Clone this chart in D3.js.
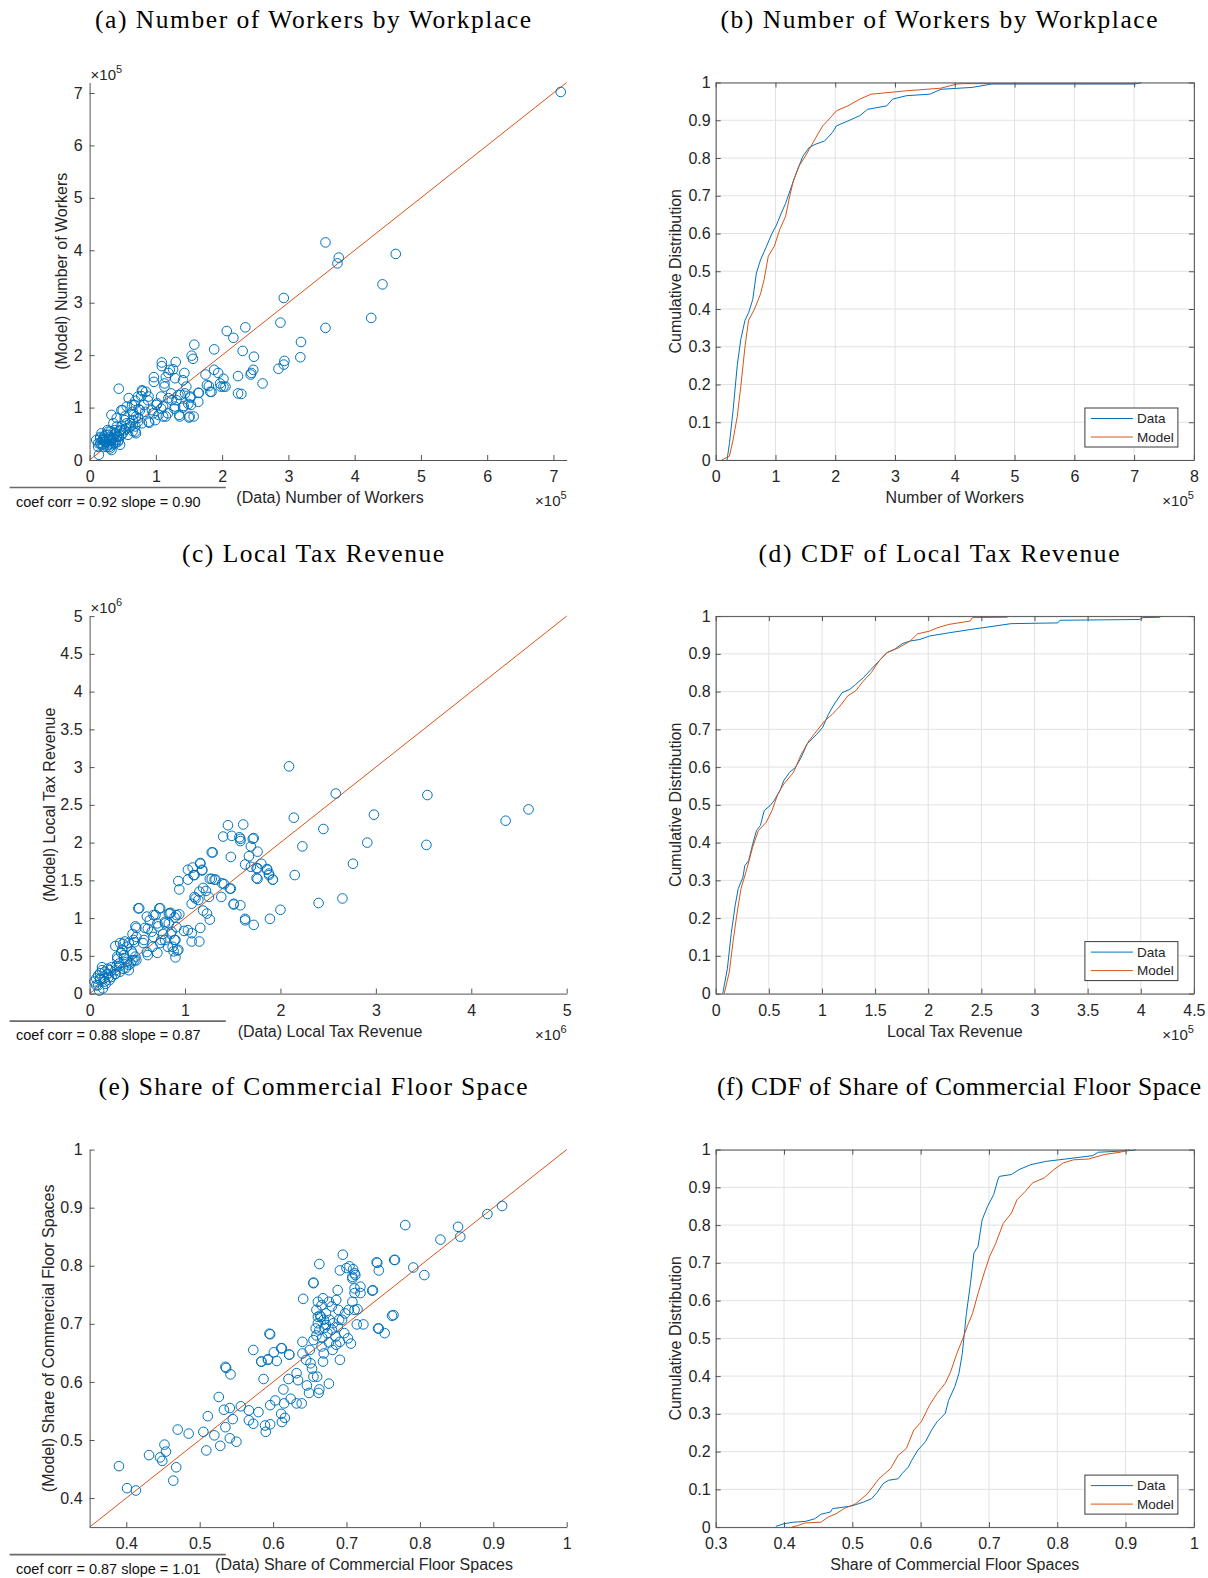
<!DOCTYPE html>
<html><head><meta charset="utf-8">
<script src="https://cdn.jsdelivr.net/npm/d3@7"></script>
<style>
body{margin:0;background:#fff}
svg{display:block}
text{font-family:"Liberation Sans",Arial,Helvetica,sans-serif}
</style></head><body>
<svg id="fig" width="1208" height="1578"></svg>
<script>
// ---------- values (workers in units of 1e5, tax revenue in units of 1e6 / 1e5) ----------
// (a) workers by workplace: [data, model]
const workersScatter = [
[7.11,7.02],[3.56,4.15],[3.76,3.86],[3.74,3.75],[4.62,3.93],[4.42,3.35],[4.25,2.71],[3.56,2.52],[2.93,3.09],[2.88,2.62],
[2.35,2.53],[2.07,2.46],[2.17,2.33],[2.31,2.08],[2.48,1.97],[3.19,2.25],[3.18,1.96],[2.94,1.89],[2.93,1.82],[2.85,1.74],
[2.47,1.72],[2.44,1.66],[2.43,1.63],[2.24,1.60],[2.29,1.26],[2.61,1.46],[1.88,2.11],[1.58,2.20],[1.54,1.99],[1.56,1.93],
[1.30,1.87],[1.09,1.86],[1.09,1.79],[1.26,1.73],[0.97,1.58],[0.97,1.49],[1.19,1.66],[1.43,1.66],[0.44,1.36],[1.75,1.63],
[1.88,1.72],[1.94,1.66],[1.80,1.41],[1.84,1.30],[1.97,1.46],[2.02,1.55],[2.05,1.40],[1.98,1.40],[1.65,1.28],[1.64,1.11],
[1.51,0.83],[1.35,0.86],[1.15,0.83],[1.04,0.86],[0.90,0.71],[1.42,1.03],[1.28,0.98],[1.52,1.19],[1.53,1.05],[1.46,1.40],
[1.41,1.52],[1.37,1.24],[1.31,1.14],[1.23,1.27],[1.19,1.18],[1.13,1.40],[1.13,1.46],[1.08,1.21],[1.02,1.08],[1.08,0.98],
[0.96,0.89],[0.85,1.30],[0.79,1.33],[0.88,1.14],[0.73,1.21],[0.67,1.05],[0.59,1.18],[0.56,1.02],[0.50,0.95],[0.65,0.92],
[0.70,0.83],[0.76,0.95],[0.82,1.05],[0.73,0.73],[0.70,0.51],[0.62,0.64],[0.53,0.76],[0.41,0.64],[0.36,0.70],[0.27,0.57],
[0.39,0.51],[0.33,0.38],[0.21,0.38],[0.16,0.32],[0.18,0.51],[0.30,0.25],[0.14,0.10],[0.33,0.19],[0.24,0.48],[0.44,0.44],
[0.50,0.51],[0.47,0.57],[0.56,0.70],[0.65,0.76],[0.16,0.44],[0.21,0.25],[0.39,0.32],[0.44,0.38],[0.10,0.38],[0.13,0.25],
[1.21,1.72],[1.15,1.58],[1.29,1.56],[0.80,1.31],[0.78,1.22],[0.89,1.21],[0.69,1.13],[0.48,0.95],[0.64,1.05],[0.74,0.97],
[0.84,0.92],[0.94,0.95],[1.01,1.05],[1.11,1.02],[1.18,0.89],[1.11,0.83],[1.24,1.14],[1.34,1.24],[1.44,1.27],[1.52,1.21],
[1.29,1.02],[1.41,1.00],[1.49,1.07],[1.64,1.28],[1.57,0.83],[1.50,0.81],[1.36,0.83],[1.77,1.43],[1.82,1.30],[2.02,1.40],
[2.24,1.27],[0.33,0.86],[0.41,0.80],[0.53,0.83],[0.66,0.86],[0.73,0.80],[0.61,0.70],[0.69,0.64],[0.79,0.70],[0.89,0.73],
[0.99,0.76],[0.48,0.64],[0.38,0.57],[0.28,0.54],[0.16,0.41],[0.23,0.35],[0.31,0.44],[0.41,0.44],[0.48,0.48],[0.58,0.48],
[0.69,0.54],[0.36,0.32],[0.43,0.35],[0.26,0.25],[0.18,0.29],[0.13,0.32],[0.21,0.41],[0.33,0.38],[0.53,0.57],[0.46,0.29],
[0.31,0.22],[0.20,0.30],[0.25,0.35],[0.30,0.30],[0.22,0.45],[0.35,0.42],[0.28,0.48],[0.40,0.38],[0.45,0.55],[0.32,0.55],
[0.25,0.40],[0.38,0.50],[0.20,0.38],[0.30,0.40],[0.35,0.30],[0.27,0.28],[0.42,0.46],[0.55,0.60],[0.60,0.62],[0.65,0.55]
];
// (b) cumulative distribution of workers: [value, share]
const workersCdfData = [
[0.19,0],[0.23,0.044],[0.29,0.13],[0.36,0.25],[0.42,0.32],[0.49,0.37],[0.55,0.39],[0.62,0.425],[0.68,0.495],[0.75,0.53],
[0.85,0.566],[0.94,0.60],[1.01,0.62],[1.10,0.655],[1.17,0.68],[1.27,0.726],[1.37,0.77],[1.46,0.805],[1.56,0.827],[1.66,0.836],
[1.82,0.845],[1.95,0.867],[2.02,0.885],[2.21,0.898],[2.41,0.912],[2.54,0.929],[2.86,0.938],[2.96,0.956],[3.19,0.965],[3.58,0.969],
[3.77,0.982],[4.29,0.987],[4.62,0.996],[7.02,0.996],[7.12,1.0]
];
const workersCdfModel = [
[0.10,0],[0.23,0.01],[0.29,0.053],[0.36,0.115],[0.42,0.195],[0.49,0.30],[0.55,0.37],[0.65,0.40],[0.75,0.44],[0.81,0.478],
[0.88,0.54],[0.98,0.566],[1.07,0.61],[1.17,0.646],[1.24,0.70],[1.30,0.74],[1.40,0.78],[1.50,0.805],[1.59,0.83],[1.69,0.858],
[1.79,0.885],[1.92,0.907],[2.02,0.925],[2.21,0.938],[2.41,0.956],[2.60,0.969],[3.19,0.978],[3.77,0.985],[4.03,0.996],[4.16,0.997],
[7.00,0.997],[7.02,1.0]
];
// (c) local tax revenue (1e6): [data, model]
const taxScatter = [
[2.09,3.01],[2.58,2.65],[3.54,2.63],[4.60,2.44],[4.36,2.29],[2.98,2.37],[2.14,2.33],[2.45,2.18],[2.23,1.95],[2.91,2.00],
[3.53,1.97],[2.76,1.72],[2.15,1.57],[2.40,1.20],[2.65,1.26],[2.00,1.11],[1.89,0.99],[1.72,0.91],[1.63,0.97],[1.58,1.17],
[1.51,1.18],[1.45,2.23],[1.61,2.24],[1.40,2.08],[1.49,2.09],[1.57,2.07],[1.58,2.02],[1.71,2.05],[1.69,1.95],[1.76,1.88],
[1.67,1.82],[1.63,1.71],[1.69,1.68],[1.76,1.66],[1.76,1.52],[1.80,1.72],[1.86,1.65],[1.88,1.59],[1.92,1.51],[1.48,1.81],
[1.29,1.87],[1.26,1.52],[1.31,1.51],[1.39,1.46],[1.41,1.45],[1.48,1.39],[1.38,1.28],[0.93,1.49],[0.94,1.38],[1.03,1.64],
[1.08,1.67],[1.16,1.72],[1.18,1.63],[1.10,1.57],[1.03,1.51],[1.22,1.36],[1.15,1.35],[1.11,1.26],[1.07,1.19],[1.25,1.28],
[1.19,1.10],[1.23,1.06],[1.26,0.98],[1.03,0.84],[1.07,0.80],[1.16,0.87],[1.07,0.69],[1.15,0.69],[0.99,0.83],[0.90,0.48],
[0.92,0.57],[0.87,0.62],[0.89,0.71],[0.85,0.79],[0.91,0.88],[0.94,1.05],[0.89,1.01],[0.85,1.07],[0.79,0.93],[0.77,0.79],
[0.75,0.71],[0.71,0.93],[0.73,1.13],[0.69,1.04],[0.63,0.97],[0.61,0.86],[0.57,0.71],[0.52,1.13],[0.49,0.87],[0.45,0.79],
[0.47,0.68],[0.61,0.51],[0.71,0.54],[0.66,0.62],[0.83,1.06],[0.83,0.93],[0.37,0.69],[0.35,0.66],[0.27,0.63],[0.33,0.54],
[0.36,0.51],[0.45,0.53],[0.47,0.44],[0.49,0.44],[0.43,0.40],[0.41,0.31],[0.31,0.40],[0.27,0.31],[0.23,0.35],[0.29,0.46],
[0.19,0.26],[0.15,0.20],[0.13,0.31],[0.09,0.24],[0.11,0.18],[0.07,0.11],[0.10,0.04],[0.17,0.13],[0.23,0.22],[0.07,0.20],
[0.13,0.35],[0.21,0.18],[0.27,0.26],[0.35,0.33],[0.39,0.42],[0.19,0.33],[1.58,2.05],[1.72,2.06],[1.28,1.87],[1.16,1.73],
[1.09,1.57],[1.18,1.64],[1.28,1.52],[1.32,1.51],[1.47,1.39],[1.19,1.40],[1.14,1.24],[1.10,1.28],[1.51,1.19],[1.63,0.99],
[1.75,1.53],[1.75,1.66],[1.86,1.64],[1.92,1.51],[1.88,1.57],[0.51,1.13],[0.74,1.13],[0.60,1.02],[0.67,1.04],[0.48,0.89],
[0.58,0.87],[0.65,0.82],[0.72,0.89],[0.79,0.95],[0.84,1.06],[0.91,1.04],[0.86,0.82],[0.90,0.71],[0.93,0.58],[0.88,0.56],
[0.82,0.62],[0.79,0.71],[0.74,0.67],[0.67,0.75],[0.60,0.55],[0.56,0.67],[0.49,0.75],[0.46,0.71],[0.41,0.67],[0.32,0.67],
[0.34,0.58],[0.39,0.62],[0.44,0.56],[0.48,0.49],[0.45,0.44],[0.41,0.38],[0.38,0.34],[0.31,0.36],[0.32,0.29],[0.28,0.36],
[0.21,0.31],[0.16,0.29],[0.11,0.27],[0.11,0.20],[0.16,0.16],[0.20,0.22],[0.27,0.26],[0.09,0.11],[0.14,0.07],[0.05,0.16],
[0.36,0.47],[0.29,0.49]
];
// (d) cumulative distribution of local tax revenue (1e5): [value, share]
const taxCdfData = [
[0.066,0],[0.11,0.066],[0.146,0.159],[0.183,0.233],[0.212,0.278],[0.256,0.308],[0.274,0.339],[0.31,0.352],[0.348,0.396],[0.384,0.432],
[0.42,0.445],[0.457,0.485],[0.512,0.498],[0.549,0.511],[0.604,0.537],[0.64,0.564],[0.695,0.586],[0.75,0.599],[0.805,0.626],[0.86,0.661],
[0.951,0.687],[1.006,0.705],[1.061,0.74],[1.116,0.767],[1.189,0.797],[1.262,0.806],[1.317,0.819],[1.39,0.837],[1.463,0.859],[1.537,0.881],
[1.61,0.903],[1.683,0.912],[1.756,0.927],[1.83,0.934],[1.92,0.938],[2.01,0.947],[2.2,0.956],[2.41,0.965],[2.56,0.971],[2.78,0.98],
[3.22,0.982],[3.24,0.989],[3.99,0.991],[4.02,0.996],[4.18,0.997],[4.19,1.0]
];
const taxCdfModel = [
[0.08,0],[0.128,0.057],[0.165,0.141],[0.20,0.211],[0.238,0.278],[0.293,0.33],[0.348,0.388],[0.402,0.432],[0.476,0.454],[0.53,0.485],
[0.585,0.529],[0.64,0.555],[0.732,0.586],[0.805,0.634],[0.878,0.67],[0.951,0.696],[1.024,0.722],[1.098,0.74],[1.171,0.762],[1.244,0.789],
[1.317,0.802],[1.39,0.828],[1.463,0.85],[1.537,0.881],[1.61,0.903],[1.72,0.916],[1.83,0.934],[1.90,0.953],[2.01,0.96],[2.085,0.969],
[2.195,0.978],[2.396,0.987],[2.415,0.996],[2.744,0.997],[2.75,1.0]
];
// (e) share of commercial floor space: [data, model]
const shareScatter = [
[0.912,0.903],[0.892,0.889],[0.852,0.867],[0.855,0.850],[0.828,0.845],[0.780,0.870],[0.765,0.810],[0.741,0.806],[0.744,0.792],[0.791,0.797],
[0.806,0.784],[0.735,0.757],[0.762,0.714],[0.743,0.692],[0.752,0.684],[0.723,0.699],[0.714,0.699],[0.695,0.819],[0.663,0.803],[0.655,0.770],
[0.641,0.743],[0.596,0.682],[0.573,0.655],[0.611,0.658],[0.601,0.651],[0.593,0.639],[0.584,0.635],[0.605,0.636],[0.622,0.647],[0.536,0.624],
[0.542,0.613],[0.526,0.574],[0.556,0.558],[0.541,0.555],[0.533,0.552],[0.545,0.536],[0.535,0.522],[0.511,0.541],[0.520,0.508],[0.505,0.514],
[0.485,0.511],[0.470,0.518],[0.541,0.503],[0.550,0.497],[0.528,0.490],[0.509,0.482],[0.452,0.492],[0.454,0.480],[0.431,0.474],[0.446,0.470],
[0.449,0.464],[0.468,0.453],[0.390,0.455],[0.464,0.430],[0.401,0.417],[0.413,0.413],[0.567,0.534],[0.573,0.528],[0.567,0.551],[0.580,0.548],
[0.589,0.525],[0.590,0.514],[0.596,0.527],[0.596,0.560],[0.603,0.568],[0.614,0.587],[0.621,0.605],[0.615,0.563],[0.611,0.545],[0.612,0.531],
[0.616,0.538],[0.624,0.571],[0.632,0.563],[0.639,0.563],[0.649,0.581],[0.646,0.594],[0.655,0.609],[0.676,0.597],[0.663,0.587],[0.662,0.581],
[0.660,0.609],[0.653,0.623],[0.651,0.632],[0.632,0.615],[0.634,0.603],[0.640,0.649],[0.650,0.655],[0.640,0.669],[0.655,0.672],[0.645,0.638],
[0.668,0.635],[0.669,0.649],[0.681,0.655],[0.691,0.638],[0.691,0.669],[0.697,0.684],[0.702,0.675],[0.706,0.666],[0.694,0.707],[0.689,0.724],
[0.686,0.741],[0.680,0.730],[0.676,0.738],[0.668,0.744],[0.661,0.738],[0.666,0.732],[0.661,0.712],[0.661,0.701],[0.663,0.689],[0.658,0.692],
[0.669,0.707],[0.672,0.698],[0.674,0.684],[0.677,0.707],[0.680,0.690],[0.682,0.701],[0.685,0.678],[0.688,0.695],[0.690,0.707],[0.698,0.718],
[0.703,0.724],[0.708,0.738],[0.711,0.753],[0.719,0.764],[0.719,0.753],[0.711,0.761],[0.711,0.787],[0.708,0.781],[0.704,0.799],[0.709,0.794],
[0.691,0.792],[0.688,0.758],[0.666,0.661],[0.686,0.664],[0.676,0.668],[0.659,0.680],[0.665,0.712],[0.672,0.718],[0.659,0.724],[0.715,0.725],
[0.711,0.724],[0.742,0.805],[0.766,0.810],[0.655,0.771],[0.700,0.796],[0.712,0.784],[0.708,0.778],[0.736,0.758],[0.764,0.715],[0.744,0.692],
[0.595,0.683],[0.584,0.635],[0.593,0.638],[0.612,0.658],[0.622,0.647],[0.535,0.626],[0.587,0.605],[0.664,0.714],[0.670,0.693],[0.667,0.676]
];
// (f) cumulative distribution of commercial floor space share: [value, share]
const shareCdfData = [
[0.388,0.002],[0.40,0.009],[0.414,0.013],[0.431,0.015],[0.445,0.022],[0.454,0.034],[0.468,0.04],[0.471,0.049],[0.488,0.053],[0.499,0.056],
[0.516,0.066],[0.528,0.075],[0.536,0.091],[0.545,0.115],[0.553,0.124],[0.567,0.128],[0.573,0.142],[0.582,0.159],[0.587,0.177],[0.596,0.204],
[0.607,0.226],[0.616,0.257],[0.624,0.279],[0.636,0.301],[0.641,0.336],[0.65,0.372],[0.656,0.407],[0.661,0.46],[0.667,0.566],[0.673,0.646],
[0.678,0.726],[0.684,0.743],[0.69,0.814],[0.698,0.85],[0.707,0.881],[0.713,0.92],[0.715,0.929],[0.733,0.934],[0.744,0.947],[0.761,0.96],
[0.784,0.969],[0.812,0.975],[0.852,0.984],[0.86,0.993],[0.892,0.996],[0.912,0.998],[0.915,1.0]
];
const shareCdfModel = [
[0.411,0],[0.42,0.004],[0.431,0.011],[0.454,0.013],[0.465,0.027],[0.476,0.035],[0.488,0.049],[0.505,0.062],[0.522,0.088],[0.539,0.128],
[0.556,0.155],[0.567,0.19],[0.579,0.208],[0.59,0.257],[0.601,0.279],[0.613,0.323],[0.624,0.354],[0.636,0.381],[0.644,0.412],[0.653,0.46],
[0.661,0.496],[0.67,0.54],[0.676,0.566],[0.684,0.619],[0.693,0.673],[0.701,0.717],[0.71,0.752],[0.721,0.805],[0.733,0.832],[0.741,0.867],
[0.753,0.889],[0.764,0.912],[0.781,0.925],[0.795,0.947],[0.809,0.965],[0.824,0.973],[0.846,0.975],[0.869,0.987],[0.892,0.993],[0.903,0.998],
[0.905,1.0]
];

// ---------- tick values ----------
const workersTicks = [0,1,2,3,4,5,6,7];
const workersCdfTicks = [0,1,2,3,4,5,6,7,8];
const cdfTicks = [0,0.1,0.2,0.3,0.4,0.5,0.6,0.7,0.8,0.9,1];
const taxXTicks = [0,1,2,3,4,5];
const taxYTicks = [0,0.5,1,1.5,2,2.5,3,3.5,4,4.5,5];
const taxCdfTicks = [0,0.5,1,1.5,2,2.5,3,3.5,4,4.5];
const shareTicks = [0.4,0.5,0.6,0.7,0.8,0.9,1];
const shareCdfTicks = [0.3,0.4,0.5,0.6,0.7,0.8,0.9,1];

// ---------- layout ----------
const svg = d3.select('#fig');
const COLS = [{x0: 89.6, x1: 566.7}, {x0: 715.7, x1: 1193.9}];
const ROWS = [{y0: 82.5, y1: 460}, {y0: 616.1, y1: 993.6}, {y0: 1149.6, y1: 1527.1}];
const BLUE = '#0072BD', ORANGE = '#D95319';
const AXIS = '#555555', TEXT = '#262626';
const TICK_FONT = 16;
const fmt = d3.format('~g');

// caption over each panel, stretched to its set width
function title(txt, cx, y, w) {
  svg.append('text').attr('x', cx).attr('y', y).attr('text-anchor', 'middle')
    .style('font-family', '"Liberation Serif","Times New Roman",serif')
    .attr('font-size', 25.5).attr('fill', '#000')
    .attr('textLength', w).attr('lengthAdjust', 'spacing').text(txt);
}
function exponent(x, y, p, anchor) {
  const t = svg.append('text').attr('x', x).attr('y', y).attr('text-anchor', anchor)
    .attr('font-size', 15).attr('fill', TEXT);
  t.append('tspan').text('\u00d710');
  t.append('tspan').attr('dy', -7).attr('font-size', 11).text(p);
}
function ylabel(txt, x, yc) {
  svg.append('text').attr('transform', `translate(${x},${yc}) rotate(-90)`)
    .attr('text-anchor', 'middle').attr('dy', '0.35em').attr('font-size', 16).attr('fill', TEXT).text(txt);
}
function xlabel(txt, cx, y) {
  svg.append('text').attr('x', cx).attr('y', y).attr('text-anchor', 'middle')
    .attr('font-size', 16).attr('fill', TEXT).text(txt);
}
function styleAxis(sel) {
  sel.attr('font-size', TICK_FONT).attr('font-family', '"Liberation Sans",Arial,sans-serif');
  sel.select('.domain').attr('stroke', AXIS).attr('stroke-width', 1);
  sel.selectAll('.tick line').attr('stroke', AXIS);
  sel.selectAll('.tick text').attr('fill', TEXT).attr('font-size', TICK_FONT);
}

// scatter of model against data with 45-degree line
function scatterPanel(o) {
  const c = COLS[0], r = ROWS[o.row];
  const x = d3.scaleLinear().domain(o.domain).range([c.x0, c.x1]);
  const y = d3.scaleLinear().domain(o.domain).range([r.y1, r.y0]);
  const g = svg.append('g');
  g.append('line').attr('x1', x(o.domain[0])).attr('y1', y(o.domain[0]))
    .attr('x2', x(o.domain[1])).attr('y2', y(o.domain[1]))
    .attr('stroke', ORANGE).attr('stroke-width', 1);
  g.append('g').selectAll('circle').data(o.points).join('circle')
    .attr('cx', d => x(d[0])).attr('cy', d => y(d[1])).attr('r', 4.8)
    .attr('fill', 'none').attr('stroke', BLUE).attr('stroke-width', 1);
  g.append('g').attr('transform', `translate(0,${r.y1})`)
    .call(d3.axisBottom(x).tickValues(o.xticks).tickFormat(fmt).tickSizeInner(-5).tickSizeOuter(0).tickPadding(11))
    .call(styleAxis);
  g.append('g').attr('transform', `translate(${c.x0},0)`)
    .call(d3.axisLeft(y).tickValues(o.yticks).tickFormat(fmt).tickSizeInner(-5).tickSizeOuter(0).tickPadding(7))
    .call(styleAxis);
  title(o.title, o.titleX, o.titleY, o.titleW);
  ylabel(o.ylab, o.ylabX, (r.y0 + r.y1) / 2);
  xlabel(o.xlab, o.xlabX, r.y1 + 43);
  if (o.exp) {
    exponent(c.x0 + 1, r.y0 - 3, o.exp, 'start');
    exponent(c.x1, r.y1 + 46, o.exp, 'end');
  }
  const ly = r.y1 + 27.5;
  svg.append('line').attr('x1', 9.6).attr('x2', 225.8).attr('y1', ly).attr('y2', ly)
    .attr('stroke', '#6a6a6a').attr('stroke-width', 1.6);
  svg.append('text').attr('x', 16).attr('y', ly + 19).attr('font-size', 14.5).attr('fill', '#111').text(o.coef);
}

// empirical cumulative distributions, data vs model
function cdfPanel(o) {
  const c = COLS[1], r = ROWS[o.row];
  const x = d3.scaleLinear().domain(o.domain).range([c.x0, c.x1]);
  const y = d3.scaleLinear().domain([0, 1]).range([r.y1, r.y0]);
  const g = svg.append('g');
  const grid = g.append('g').attr('stroke', '#e2e2e2').attr('stroke-width', 1);
  grid.selectAll('.gx').data(o.xticks).join('line')
    .attr('x1', d => x(d)).attr('x2', d => x(d)).attr('y1', r.y0).attr('y2', r.y1);
  grid.selectAll('.gy').data(cdfTicks).join('line')
    .attr('y1', d => y(d)).attr('y2', d => y(d)).attr('x1', c.x0).attr('x2', c.x1);
  const line = d3.line().x(d => x(d[0])).y(d => y(d[1]));
  g.append('path').datum(o.data).attr('d', line).attr('fill', 'none').attr('stroke', BLUE).attr('stroke-width', 1);
  g.append('path').datum(o.model).attr('d', line).attr('fill', 'none').attr('stroke', ORANGE).attr('stroke-width', 1);
  g.append('g').attr('transform', `translate(0,${r.y1})`)
    .call(d3.axisBottom(x).tickValues(o.xticks).tickFormat(fmt).tickSizeInner(-5).tickSizeOuter(0).tickPadding(11))
    .call(styleAxis);
  g.append('g').attr('transform', `translate(0,${r.y0})`)
    .call(d3.axisTop(x).tickValues(o.xticks).tickFormat('').tickSizeInner(-5).tickSizeOuter(0))
    .call(styleAxis);
  g.append('g').attr('transform', `translate(${c.x0},0)`)
    .call(d3.axisLeft(y).tickValues(cdfTicks).tickFormat(fmt).tickSizeInner(-5).tickSizeOuter(0).tickPadding(5))
    .call(styleAxis);
  g.append('g').attr('transform', `translate(${c.x1},0)`)
    .call(d3.axisRight(y).tickValues(cdfTicks).tickFormat('').tickSizeInner(-5).tickSizeOuter(0))
    .call(styleAxis);
  title(o.title, o.titleX, o.titleY, o.titleW);
  ylabel('Cumulative Distribution', 675, (r.y0 + r.y1) / 2);
  xlabel(o.xlab, (c.x0 + c.x1) / 2, r.y1 + 43);
  if (o.exp) exponent(c.x1, r.y1 + 46, o.exp, 'end');
  // legend
  const lx = c.x1 - 16 - 93, ly = r.y1 - 13 - 39;
  const lg = svg.append('g').attr('transform', `translate(${lx},${ly})`);
  lg.append('rect').attr('width', 93).attr('height', 39).attr('fill', '#fff').attr('stroke', '#3a3a3a').attr('stroke-width', 1);
  [['Data', BLUE], ['Model', ORANGE]].forEach(([name, col], i) => {
    const yy = 10.5 + i * 18.5;
    lg.append('line').attr('x1', 6).attr('x2', 48).attr('y1', yy).attr('y2', yy).attr('stroke', col).attr('stroke-width', 1);
    lg.append('text').attr('x', 52).attr('y', yy).attr('dy', '0.35em').attr('font-size', 13.5).attr('fill', TEXT).text(name);
  });
}

scatterPanel({row: 0, domain: [0, 7.2], points: workersScatter, xticks: workersTicks, yticks: workersTicks,
  title: '(a) Number of Workers by Workplace', titleX: 313, titleY: 28, titleW: 436,
  ylab: '(Model) Number of Workers', ylabX: 61,
  xlab: '(Data) Number of Workers', xlabX: 330, exp: '5', coef: 'coef corr = 0.92 slope = 0.90'});
cdfPanel({row: 0, domain: [0, 8], xticks: workersCdfTicks, data: workersCdfData, model: workersCdfModel,
  title: '(b) Number of Workers by Workplace', titleX: 939, titleY: 28, titleW: 437,
  xlab: 'Number of Workers', exp: '5'});
scatterPanel({row: 1, domain: [0, 5], points: taxScatter, xticks: taxXTicks, yticks: taxYTicks,
  title: '(c) Local Tax Revenue', titleX: 313, titleY: 562, titleW: 262,
  ylab: '(Model) Local Tax Revenue', ylabX: 49,
  xlab: '(Data) Local Tax Revenue', xlabX: 330, exp: '6', coef: 'coef corr = 0.88 slope = 0.87'});
cdfPanel({row: 1, domain: [0, 4.5], xticks: taxCdfTicks, data: taxCdfData, model: taxCdfModel,
  title: '(d) CDF of Local Tax Revenue', titleX: 939, titleY: 562, titleW: 361,
  xlab: 'Local Tax Revenue', exp: '5'});
scatterPanel({row: 2, domain: [0.35, 1], points: shareScatter, xticks: shareTicks, yticks: shareTicks,
  title: '(e) Share of Commercial Floor Space', titleX: 313, titleY: 1095, titleW: 429,
  ylab: '(Model) Share of Commercial Floor Spaces', ylabX: 48,
  xlab: '(Data) Share of Commercial Floor Spaces', xlabX: 364, exp: null, coef: 'coef corr = 0.87 slope = 1.01'});
cdfPanel({row: 2, domain: [0.3, 1], xticks: shareCdfTicks, data: shareCdfData, model: shareCdfModel,
  title: '(f) CDF of Share of Commercial Floor Space', titleX: 959, titleY: 1095, titleW: 484,
  xlab: 'Share of Commercial Floor Spaces', exp: null});
</script>
</body></html>
